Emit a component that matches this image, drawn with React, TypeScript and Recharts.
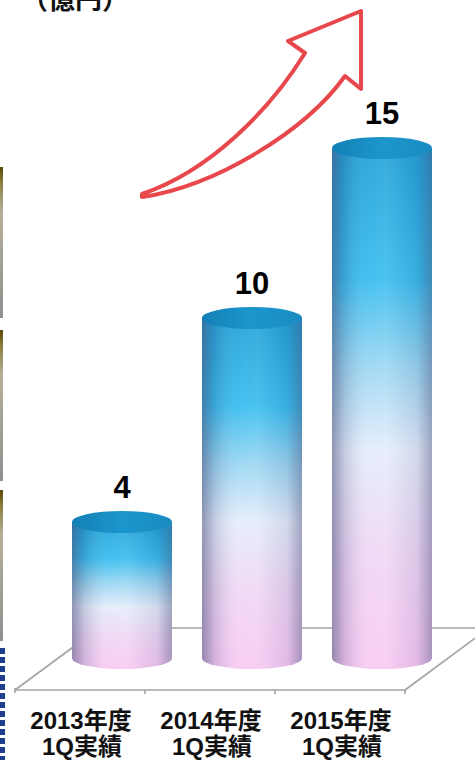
import React from 'react';
import { BarChart, Bar, XAxis, YAxis, LabelList } from 'recharts';

// ---- data ----
const years = ['2013年度', '2014年度', '2015年度'];
const periods = ['1Q実績', '1Q実績', '1Q実績'];
const sales = [4, 10, 15];
const unitLabel = '（億円）';

const data = years.map((y, i) => ({ name: y, sub: periods[i], value: sales[i] }));

// ---- layout ----
const W = 475;
const H = 760;
const AXIS_H = 30;
const M = { top: 46, right: 28, bottom: 102 - AXIS_H, left: 57 };
const Y_MAX = 18;
const RY = 11;
const SHIFT = 42; // perspective shift of the floor / labels
const FONT = "'Liberation Sans', Arial, 'Noto Sans CJK JP', sans-serif";

const plotW = W - M.left - M.right;
const band = plotW / years.length;
const zeroY = H - M.bottom - AXIS_H;
const frontY = zeroY + 32;
const backY = zeroY - 30;
const depthX = 84;

function Cylinder(props: any) {
  const { x, y, width, height, index } = props;
  if (width == null || height == null) return null;
  const rx = width / 2;
  const by = y + height;
  const body = `M${x},${y} L${x},${by} A${rx},${RY} 0 0 0 ${x + width},${by} L${x + width},${y} Z`;
  const id = `c${index}`;
  return (
    <g>
      <defs>
        <linearGradient id={`${id}v`} x1="0" y1="0" x2="0" y2="1">
          <stop offset="0" stopColor="#1d9fd6" />
          <stop offset="0.25" stopColor="#33bbee" />
          <stop offset="0.42" stopColor="#9ad6f2" />
          <stop offset="0.58" stopColor="#e4ecfb" />
          <stop offset="0.78" stopColor="#efd6f5" />
          <stop offset="1" stopColor="#f8c8f3" />
        </linearGradient>
        <linearGradient id={`${id}h`} x1="0" y1="0" x2="1" y2="0">
          <stop offset="0" stopColor="#4a4f7a" stopOpacity="0.55" />
          <stop offset="0.12" stopColor="#4a4f7a" stopOpacity="0.22" />
          <stop offset="0.35" stopColor="#ffffff" stopOpacity="0.08" />
          <stop offset="0.55" stopColor="#ffffff" stopOpacity="0.12" />
          <stop offset="0.85" stopColor="#4a4f7a" stopOpacity="0.12" />
          <stop offset="1" stopColor="#4a4f7a" stopOpacity="0.45" />
        </linearGradient>
        <linearGradient id={`${id}t`} x1="0" y1="0" x2="1" y2="0">
          <stop offset="0" stopColor="#1380b6" />
          <stop offset="0.5" stopColor="#1b96cc" />
          <stop offset="1" stopColor="#1a8cc2" />
        </linearGradient>
      </defs>
      <path d={body} fill={`url(#${id}v)`} />
      <path d={body} fill={`url(#${id}h)`} />
      <ellipse cx={x + rx} cy={y} rx={rx} ry={RY} fill={`url(#${id}t)`} />
    </g>
  );
}

function Tick(props: any) {
  const { x, y, payload } = props;
  const i = years.indexOf(payload.value);
  const cx = x - SHIFT + 1;
  const common = {
    textAnchor: 'middle' as const,
    fontFamily: FONT,
    fontWeight: 700,
    fontSize: 24,
    fill: '#111',
  };
  return (
    <g>
      <text x={cx} y={y + 71} {...common}>{years[i]}</text>
      <text x={cx + 1} y={y + 97} {...common}>{periods[i]}</text>
    </g>
  );
}

function Floor() {
  const fl = M.left - SHIFT;
  const fr = M.left + plotW - SHIFT;
  const ticks = years.map((_, i) => fl + band * (i + 1));
  const stroke = '#a3a3a3';
  return (
    <svg width={W} height={H} style={{ position: 'absolute', left: 0, top: 0 }}>
      <defs>
        <linearGradient id="strip" x1="0" y1="0" x2="0" y2="1">
          <stop offset="0" stopColor="#5a4808" />
          <stop offset="0.12" stopColor="#8f8447" />
          <stop offset="0.3" stopColor="#b4b09a" />
          <stop offset="1" stopColor="#8f8f8f" />
        </linearGradient>
      </defs>
      {[167, 330, 490].map((sy) => (
        <rect key={sy} x={0} y={sy} width={3} height={151} fill="url(#strip)" />
      ))}
      <line x1={2.5} y1={648} x2={2.5} y2={H} stroke="#203f8c" strokeWidth={5} strokeDasharray="6 3" />
      <g stroke={stroke} strokeWidth={1.6} fill="none">
        <line x1={fl} y1={frontY} x2={fr} y2={frontY} />
        <line x1={fl} y1={frontY} x2={fl + depthX} y2={backY} />
        <line x1={fr} y1={frontY} x2={fr + depthX} y2={backY} />
        <line x1={fl + depthX} y1={backY} x2={fr + depthX} y2={backY} />
        <line x1={fl} y1={frontY - 2} x2={fl} y2={frontY + 3} />
        {ticks.map((t) => (
          <line key={t} x1={t} y1={frontY} x2={t} y2={frontY + 4} />
        ))}
      </g>
    </svg>
  );
}

function Overlay() {
  const arrow =
    'M142,194 C210,171 270,110 305,53 L288,41 L361,11 L361,89 L345,76 C305,132 215,186 142,197 Z';
  return (
    <svg width={W} height={H} style={{ position: 'absolute', left: 0, top: 0, pointerEvents: 'none' }}>
      <text
        x={21}
        y={9}
        fontFamily="'Noto Sans CJK JP', sans-serif"
        fontWeight={700}
        fontSize={27}
        fill="#111"
      >
        {unitLabel}
      </text>
      <path d={arrow} fill="#ffffff" stroke="#e8474c" strokeWidth={4} strokeLinejoin="round" />
    </svg>
  );
}

export default function App() {
  return (
    <div style={{ position: 'absolute', left: 0, top: 0, width: W, height: H, background: '#fff', overflow: 'hidden' }}>
      <Floor />
      <div style={{ position: 'absolute', left: 0, top: 0 }}>
        <BarChart width={W} height={H} data={data} margin={M} barSize={100}>
          <YAxis hide domain={[0, Y_MAX]} />
          <XAxis
            dataKey="name"
            height={AXIS_H}
            axisLine={false}
            tickLine={false}
            tickSize={0}
            tickMargin={0}
            interval={0}
            tick={<Tick />}
          />
          <Bar dataKey="value" shape={<Cylinder />} isAnimationActive={false}>
            <LabelList
              dataKey="value"
              position="top"
              offset={24}
              fill="#000"
              fontSize={31}
              fontWeight={700}
              fontFamily="'Liberation Sans', Arial, sans-serif"
            />
          </Bar>
        </BarChart>
      </div>
      <Overlay />
    </div>
  );
}
